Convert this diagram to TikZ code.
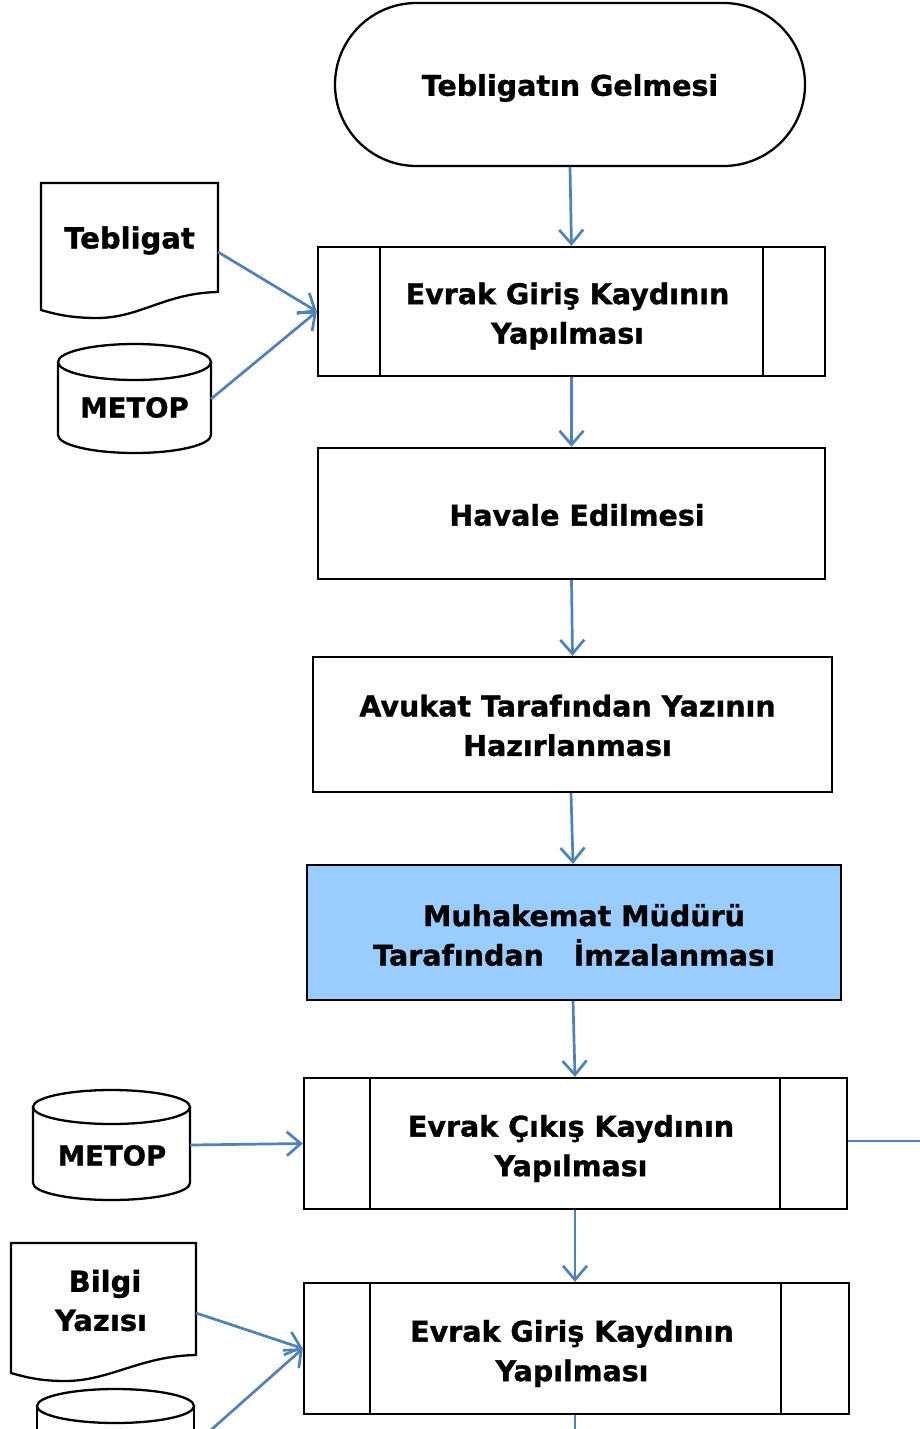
\documentclass[tikz,border=0pt]{standalone}
\usepackage{fontspec}
\setmainfont{DejaVu Sans}[BoldFeatures={FakeBold=1.1}]
\usetikzlibrary{arrows.meta,shapes.misc}
\definecolor{conblue}{HTML}{4F81BD}
\definecolor{fillblue}{HTML}{99CCFF}
\tikzset{
  shapeline/.style={draw=black, line width=2.3pt},
  procbox/.style={shapeline, rectangle, inner sep=0pt},
  termbox/.style={shapeline, rounded rectangle, inner sep=0pt},
  boxtext/.style={align=center, inner sep=0pt, font=\fontsize{28.5}{39.5}\selectfont\bfseries},
  sidetext/.style={align=center, inner sep=0pt, font=\fontsize{29}{39}\selectfont\bfseries},
  dbtext/.style={align=center, inner sep=0pt, font=\fontsize{27.5}{30}\selectfont\bfseries},
  conn/.style={draw=conblue, line width=2.7pt},
  arr/.style={conn, -{Straight Barb[length=14pt, width=24pt, line width=2.7pt]}},
}
\begin{document}
\begin{tikzpicture}[x=1pt,y=-1pt]
\useasboundingbox (0,0) rectangle (920,1429);
\fill[white] (0,0) rectangle (920,1429);

% main flow shapes
\node[termbox, minimum width=470pt, minimum height=163pt] (t0) at (570,84.5) {};
\node[procbox, minimum width=507pt, minimum height=129pt] (p1) at (571.5,311.5) {};
\node[procbox, minimum width=507pt, minimum height=131pt] (p2) at (571.5,513.5) {};
\node[procbox, minimum width=519pt, minimum height=135pt] (p3) at (572.5,724.5) {};
\node[procbox, fill=fillblue, minimum width=534pt, minimum height=135pt] (p4) at (574,932.5) {};
\node[procbox, minimum width=543pt, minimum height=131pt] (p5) at (575.5,1143.5) {};
\node[procbox, minimum width=545pt, minimum height=131pt] (p6) at (576.5,1348.5) {};

% texts
\node[boxtext] (t0t) at (570,88) {Tebligatın Gelmesi};
\node[boxtext] (p1t) at (567.5,316) {Evrak Giriş Kaydının\\Yapılması};
\node[boxtext] (p2t) at (577,515) {Havale Edilmesi};
\node[boxtext] (p3t) at (567.5,725.5) {Avukat Tarafından Yazının\\Hazırlanması};
\node[boxtext] (p4t) at (574,935) {\hspace*{20pt}Muhakemat Müdürü\\Tarafından\ \ \ İmzalanması};
\node[boxtext] (p5t) at (571,1148.5) {Evrak Çıkış Kaydının\\Yapılması};
\node[boxtext] (p6t) at (572,1353.5) {Evrak Giriş Kaydının\\Yapılması};

% predefined process side bars
\foreach \n/\a/\b in {p1/63/63, p5/67/68, p6/67/69}{
  \draw[shapeline] ([xshift=\a pt]\n.north west) -- ([xshift=\a pt]\n.south west);
  \draw[shapeline] ([xshift=-\b pt]\n.north east) -- ([xshift=-\b pt]\n.south east);
}

% Tebligat document
\draw[shapeline, fill=white] (41,183) -- (218,183) -- (218,292)
  .. controls (165,293) and (140,318) .. (97,318)
  .. controls (70,318) and (55,314) .. (41,310) -- cycle;
\node[sidetext] (d1) at (129.5,240.5) {Tebligat};
\coordinate (d1r) at (218,252);

% METOP cylinder 1
\draw[shapeline, fill=white] (58,362) -- (58,435) arc[start angle=180, end angle=0, x radius=76.5, y radius=18] -- (211,362);
\draw[shapeline, fill=white] (134.5,362) ellipse[x radius=76.5, y radius=18];
\node[dbtext] (c1) at (134.5,407.5) {METOP};
\coordinate (c1r) at (211,399);

% METOP cylinder 2
\draw[shapeline, fill=white] (33,1107) -- (33,1183) arc[start angle=180, end angle=0, x radius=78.5, y radius=17] -- (190,1107);
\draw[shapeline, fill=white] (111.5,1107) ellipse[x radius=78.5, y radius=17];
\node[dbtext] (c2) at (112,1155.5) {METOP};
\coordinate (c2r) at (190,1145);

% Bilgi Yazisi document
\draw[shapeline, fill=white] (11,1243) -- (196,1243) -- (196,1355)
  .. controls (140,1356) and (110,1381) .. (65,1381)
  .. controls (40,1381) and (25,1377) .. (11,1373) -- cycle;
\node[sidetext] (d2) at (101,1300.5) {\hspace*{8pt}Bilgi\\Yazısı};
\coordinate (d2r) at (196,1313);

% cylinder 3 (cut off)
\draw[shapeline, fill=white] (37,1406) -- (37,1470) (194,1470) -- (194,1406);
\draw[shapeline, fill=white] (115.5,1406) ellipse[x radius=78.5, y radius=17];
\coordinate (c3r) at (194,1445);

% connectors
\draw[arr] (t0.south) -- (p1.north);
\draw[arr] (p1.south) -- (p2.north);
\draw[arr] (p2.south) -- (p3.north);
\draw[arr] (p3.south -| 571,0) -- (p4.north -| 573,0);
\draw[arr] (p4.south -| 573,0) -- (p5.north -| 575,0);
\draw[arr] (p5.south -| 575,0) -- (p6.north -| 575,0);
\draw[arr] (d1r) -- (p1.west);
\draw[arr] (c1r) -- (p1.west);
\draw[arr] (c2r) -- (p5.west);
\draw[arr] (d2r) -- (p6.west);
\draw[arr] (c3r) -- (p6.west);
\coordinate (offr) at (920,1141);
\draw[conn] (p5.east |- offr) -- (offr);
\coordinate (offb) at (575,1440);
\draw[conn] (p6.south -| offb) -- (offb);
\end{tikzpicture}
\end{document}
